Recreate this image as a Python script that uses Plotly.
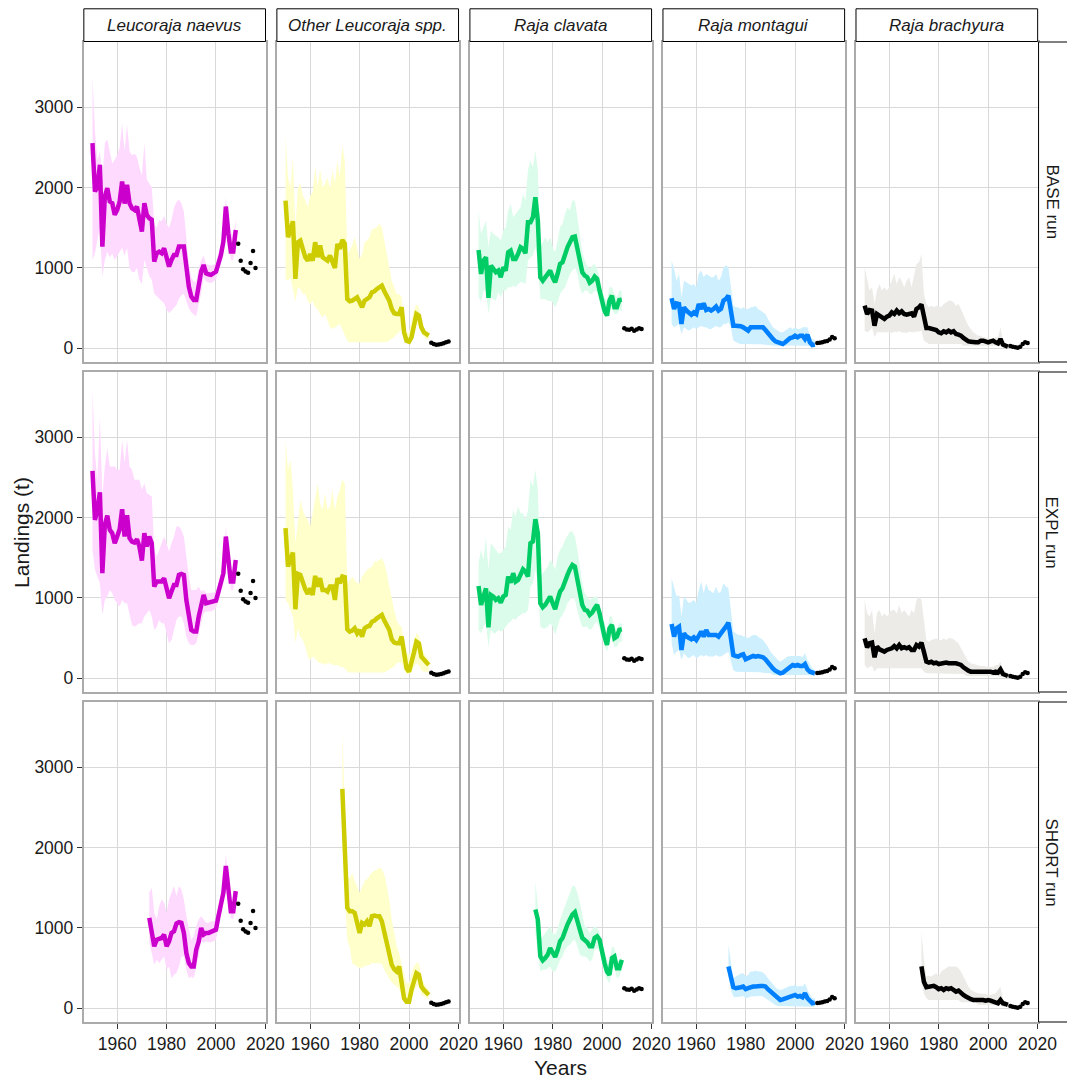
import plotly.graph_objects as go

# ---------------- DATA ----------------
YEARS_FULL = list(range(1950, 2009))
YEARS_SHORT = list(range(1973, 2009))
OBS_YEARS = list(range(2009, 2017))

SPECIES = ["Leucoraja naevus", "Other Leucoraja spp.", "Raja clavata", "Raja montagui", "Raja brachyura"]
RUNS = ["BASE run", "EXPL run", "SHORT run"]
Y_TICKS = [0, 1000, 2000, 3000]
X_TICKS = [1960, 1980, 2000, 2020]

# observed landings (2009-2016)
obs_naevus = [1300, 1090, 985, 955, 940, 1060, 1210, 1000]
obs_otherleu = [70, 55, 45, 48, 55, 62, 75, 85]
obs_clavata = [250, 235, 230, 245, 220, 235, 250, 240]
obs_montagui = [65, 70, 75, 85, 90, 110, 140, 125]
obs_brachyura = [30, 20, 15, 8, 20, 55, 75, 65]

# ---- BASE run (1950-2008) ----
naevus_base_med = [2552, 1950, 2010, 2282, 1265, 1888, 1992, 1826, 1805, 1660,
                   1722, 1826, 2075, 1800, 2033, 1805, 1743, 1722, 1763, 1577,
                   1452, 1805, 1660, 1618, 1598, 1079, 1183, 1203, 1183, 1245,
                   1100, 1017, 1100, 1162, 1162, 1266, 1266, 1266, 1017, 768,
                   643, 602, 602, 809, 954, 1037, 934, 921, 913, 934,
                   954, 1058, 1162, 1328, 1763, 1432, 1203, 1203, 1473]
naevus_base_hi = [3380, 2700, 2350, 2450, 2100, 2550, 2600, 2450, 2300, 2350,
                  2400, 2500, 2800, 2450, 2780, 2450, 2400, 2420, 2380, 2250,
                  2150, 2550, 2100, 2050, 2000, 1550, 1500, 1600, 1580, 1650,
                  1550, 1500, 1600, 1750, 1820, 1850, 1800, 1700, 1400, 1050,
                  880, 830, 830, 1000, 1100, 1150, 1050, 1040, 1030, 1040,
                  1060, 1180, 1300, 1480, 1880, 1600, 1450, 1400, 1600]
naevus_base_lo = [1100, 1180, 1350, 1500, 890, 1100, 1200, 1130, 1180, 1100,
                  1150, 1200, 1250, 1150, 1250, 1000, 950, 950, 1000, 850,
                  800, 1100, 1000, 900, 850, 680, 660, 630, 590, 560,
                  480, 440, 470, 500, 540, 620, 660, 680, 600, 500,
                  450, 420, 400, 550, 680, 880, 830, 820, 810, 830,
                  860, 950, 1050, 1200, 1600, 1300, 1100, 1100, 1350]

otherleu_base_med = [1838, 1382, 1465, 1581, 863, 1320, 1340, 1216, 1133, 1091,
                     1174, 1091, 1320, 1133, 1278, 1133, 1112, 1091, 1154, 1091,
                     1000, 1299, 1237, 1349, 1300, 614, 585, 593, 614, 635,
                     573, 510, 593, 614, 635, 697, 710, 739, 759, 780,
                     710, 656, 593, 490, 436, 427, 427, 510, 199, 95,
                     83, 137, 303, 427, 407, 261, 199, 170, 158]
otherleu_base_hi = [2647, 2128, 2000, 2377, 1500, 2004, 2046, 1900, 1838, 1755,
                    1900, 1942, 2253, 2004, 2232, 2004, 2046, 2129, 1983, 2212,
                    2046, 2336, 2129, 2523, 2336, 1174, 1216, 1278, 1382, 1257,
                    1112, 1174, 1320, 1340, 1382, 1485, 1485, 1506, 1548, 1506,
                    1320, 1174, 1008, 842, 759, 676, 676, 635, 261, 199,
                    199, 344, 469, 552, 510, 344, 261, 220, 200]
otherleu_base_lo = [863, 840, 880, 739, 573, 759, 739, 676, 676, 593,
                    552, 593, 510, 490, 427, 386, 427, 344, 261, 241,
                    261, 282, 303, 220, 158, 95, 75, 75, 75, 75,
                    75, 75, 75, 75, 75, 75, 75, 75, 75, 75,
                    75, 80, 95, 116, 137, 178, 200, 240, 104, 62,
                    62, 95, 199, 303, 261, 178, 137, 116, 110]

clavata_base_med = [1224, 925, 1091, 1133, 627, 1029, 988, 946, 967, 884,
                    1008, 967, 1195, 1216, 1112, 1112, 1174, 1257, 1237, 1183,
                    1568, 1568, 1631, 1880, 1589, 884, 842, 884, 925, 967,
                    884, 822, 925, 1050, 1070, 1174, 1257, 1320, 1382, 1390,
                    1257, 1091, 946, 905, 884, 817, 842, 892, 863, 718,
                    573, 469, 407, 593, 656, 510, 510, 600, 605]
clavata_base_hi = [1714, 1423, 1506, 1589, 1257, 1465, 1423, 1402, 1382, 1340,
                   1465, 1506, 1714, 1797, 1631, 1672, 1714, 1755, 1921, 1838,
                   2212, 2336, 2253, 2461, 2212, 1257, 1320, 1382, 1320, 1382,
                   1257, 1195, 1340, 1506, 1548, 1672, 1755, 1714, 1838, 1838,
                   1631, 1382, 1195, 1091, 1029, 988, 1029, 1050, 988, 884,
                   718, 635, 593, 759, 759, 676, 635, 718, 718]
clavata_base_lo = [635, 593, 718, 718, 427, 635, 614, 593, 697, 635,
                   718, 718, 759, 759, 780, 759, 801, 822, 822, 801,
                   1091, 1133, 1154, 1257, 1091, 614, 614, 614, 593, 593,
                   573, 510, 573, 676, 718, 759, 842, 925, 967, 1008,
                   925, 759, 676, 718, 718, 676, 676, 718, 697, 573,
                   448, 407, 386, 469, 510, 427, 427, 469, 469]

montagui_base_med = [622, 490, 560, 552, 303, 510, 469, 448, 419, 448,
                     427, 552, 490, 560, 477, 490, 469, 490, 519, 469,
                     490, 593, 614, 656, 450, 282, 282, 282, 274, 261,
                     241, 220, 261, 261, 274, 261, 266, 261, 228, 187,
                     145, 116, 87, 75, 62, 54, 75, 104, 129, 137,
                     158, 137, 158, 158, 116, 170, 75, 41, 46]
montagui_base_hi = [1091, 988, 842, 925, 635, 842, 822, 801, 780, 801,
                    759, 925, 967, 884, 925, 905, 884, 884, 925, 842,
                    884, 1008, 1029, 1008, 800, 531, 510, 510, 490, 510,
                    490, 490, 510, 510, 531, 490, 469, 448, 427, 365,
                    303, 261, 241, 220, 199, 199, 220, 241, 261, 241,
                    261, 241, 241, 261, 261, 261, 158, 116, 104]
montagui_base_lo = [303, 261, 282, 303, 178, 261, 241, 220, 241, 261,
                    241, 261, 282, 261, 261, 241, 241, 261, 282, 261,
                    261, 303, 303, 324, 261, 95, 75, 62, 54, 54,
                    54, 50, 50, 50, 50, 50, 50, 50, 45, 40,
                    35, 33, 33, 30, 28, 28, 30, 33, 35, 35,
                    35, 35, 35, 35, 33, 33, 30, 20, 20]

brachyura_base_med = [531, 427, 477, 469, 282, 427, 407, 386, 365, 394,
                      407, 448, 427, 469, 436, 460, 427, 419, 427, 436,
                      394, 490, 510, 544, 400, 253, 253, 241, 241, 228,
                      199, 187, 212, 199, 220, 199, 212, 178, 170, 158,
                      129, 104, 87, 83, 75, 75, 75, 95, 95, 87,
                      75, 87, 95, 75, 62, 116, 46, 33, 21]
brachyura_base_hi = [1008, 842, 718, 759, 552, 718, 801, 718, 759, 718,
                     759, 842, 925, 801, 884, 842, 759, 842, 884, 759,
                     925, 1050, 1071, 1174, 676, 552, 510, 531, 510, 531,
                     531, 510, 552, 573, 593, 593, 573, 531, 552, 490,
                     407, 344, 282, 241, 199, 178, 158, 158, 137, 137,
                     116, 116, 116, 137, 137, 261, 95, 54, 40]
brachyura_base_lo = [220, 199, 220, 261, 137, 199, 199, 199, 199, 199,
                     205, 190, 210, 200, 215, 195, 200, 190, 205, 200,
                     199, 210, 210, 220, 95, 75, 54, 54, 54, 54,
                     54, 54, 54, 54, 54, 54, 54, 54, 54, 54,
                     33, 33, 33, 33, 33, 33, 33, 33, 33, 33,
                     33, 33, 33, 33, 33, 33, 15, 10, 5]

# ---- EXPL run (1950-2008) ----
naevus_expl_med = [2581, 1971, 2095, 2315, 1307, 1909, 2025, 1846, 1805, 1680,
                   1763, 1855, 2104, 1763, 2029, 1743, 1701, 1689, 1730, 1639,
                   1465, 1805, 1639, 1763, 1680, 1141, 1203, 1203, 1203, 1245,
                   1120, 996, 1079, 1162, 1162, 1286, 1299, 1286, 975, 747,
                   602, 581, 581, 768, 892, 1037, 934, 942, 942, 954,
                   967, 1079, 1183, 1307, 1763, 1473, 1203, 1203, 1473]
naevus_expl_hi = [3589, 2801, 2469, 3257, 2261, 2635, 2863, 2635, 2635, 2635,
                  2593, 2593, 2967, 2676, 2967, 2635, 2593, 2469, 2469, 2469,
                  2344, 2427, 2303, 2282, 2261, 1600, 1515, 1598, 1680, 1763,
                  1680, 1577, 1680, 1763, 1888, 1888, 1846, 1763, 1515, 1266,
                  1100, 1100, 1100, 1141, 1079, 1100, 1060, 1058, 1058, 1066,
                  1079, 1183, 1286, 1390, 1888, 1556, 1349, 1266, 1535]
naevus_expl_lo = [1598, 1349, 1266, 1183, 788, 975, 1017, 1100, 1058, 975,
                  934, 892, 975, 934, 934, 809, 664, 643, 664, 685,
                  685, 768, 809, 851, 768, 602, 643, 726, 685, 685,
                  560, 436, 477, 602, 726, 768, 768, 685, 519, 436,
                  415, 415, 436, 560, 685, 809, 830, 830, 830, 851,
                  871, 975, 1079, 1183, 1639, 1349, 1100, 1100, 1349]

otherleu_expl_med = [1867, 1390, 1473, 1564, 859, 1299, 1286, 1183, 1108, 1050,
                     1120, 1037, 1274, 1141, 1245, 1100, 1100, 1079, 1141, 1141,
                     975, 1245, 1183, 1266, 1257, 610, 581, 593, 622, 560,
                     602, 519, 622, 643, 651, 705, 718, 747, 776, 788,
                     718, 664, 602, 485, 444, 436, 436, 519, 270, 124,
                     83, 187, 320, 456, 436, 270, 237, 195, 166]
otherleu_expl_hi = [2967, 2593, 2718, 2344, 1680, 1971, 2220, 2095, 2012, 1971,
                    1888, 2054, 2261, 2427, 2178, 2095, 2303, 2095, 2137, 2344,
                    2095, 2261, 2344, 2469, 2427, 1183, 1224, 1266, 1224, 1183,
                    1183, 1266, 1307, 1349, 1369, 1390, 1452, 1452, 1473, 1494,
                    1432, 1307, 1141, 975, 851, 726, 664, 643, 436, 311,
                    290, 353, 477, 560, 539, 394, 311, 270, 228]
otherleu_expl_lo = [975, 934, 851, 768, 436, 622, 519, 477, 394, 270,
                    228, 270, 249, 207, 187, 187, 166, 187, 187, 166,
                    166, 166, 145, 145, 124, 83, 71, 71, 71, 71,
                    71, 71, 71, 71, 71, 71, 71, 71, 71, 71,
                    71, 83, 104, 124, 145, 187, 200, 187, 104, 54,
                    54, 83, 145, 187, 166, 104, 83, 83, 71]

clavata_expl_med = [1149, 913, 1017, 1120, 635, 1037, 1017, 975, 996, 942,
                    1017, 1037, 1266, 1191, 1307, 1203, 1224, 1299, 1357, 1328,
                    1266, 1680, 1701, 1979, 1805, 934, 884, 913, 954, 1017,
                    934, 859, 975, 1079, 1120, 1224, 1286, 1357, 1411, 1390,
                    1224, 1058, 913, 851, 842, 788, 817, 871, 913, 809,
                    643, 519, 415, 622, 664, 498, 519, 602, 610]
clavata_expl_hi = [1432, 1598, 1473, 1763, 1349, 1680, 1639, 1598, 1556, 1556,
                   1598, 1639, 1888, 1846, 2095, 2012, 2137, 2054, 2054, 1971,
                   2095, 2469, 2386, 2593, 2344, 1266, 1307, 1349, 1390, 1473,
                   1432, 1349, 1515, 1598, 1639, 1722, 1784, 1826, 1826, 1763,
                   1598, 1390, 1183, 1058, 1017, 975, 996, 1017, 1017, 892,
                   768, 685, 560, 768, 768, 643, 622, 685, 685]
clavata_expl_lo = [602, 560, 643, 685, 394, 602, 560, 560, 602, 581,
                   602, 643, 685, 705, 747, 726, 768, 788, 809, 809,
                   851, 1141, 1183, 1349, 1183, 643, 622, 622, 643, 685,
                   643, 539, 643, 747, 788, 851, 934, 975, 1017, 975,
                   851, 726, 643, 643, 643, 602, 622, 685, 705, 622,
                   498, 415, 332, 477, 519, 394, 394, 456, 456]

montagui_expl_med = [676, 519, 622, 643, 353, 560, 519, 498, 486, 510,
                     477, 527, 581, 519, 602, 539, 539, 539, 539, 519,
                     552, 602, 643, 693, 500, 290, 278, 270, 290, 299,
                     237, 249, 270, 278, 270, 278, 270, 262, 237, 195,
                     154, 124, 95, 83, 62, 70, 95, 124, 154, 166,
                     154, 166, 154, 154, 178, 112, 83, 71, 62]
montagui_expl_hi = [1245, 1141, 1017, 1037, 768, 1017, 975, 934, 954, 975,
                    934, 1100, 1203, 1058, 1183, 1100, 1079, 1058, 1141, 1058,
                    1079, 1183, 1141, 1120, 851, 581, 560, 539, 539, 519,
                    519, 498, 519, 539, 539, 519, 498, 477, 436, 394,
                    332, 290, 261, 228, 207, 228, 249, 270, 278, 278,
                    270, 270, 278, 261, 311, 228, 166, 124, 104]
montagui_expl_lo = [436, 290, 332, 353, 228, 311, 270, 249, 270, 290,
                    249, 270, 290, 270, 290, 270, 270, 270, 290, 270,
                    270, 290, 311, 332, 228, 104, 83, 83, 83, 83,
                    75, 75, 75, 75, 75, 75, 75, 70, 66, 62,
                    62, 41, 41, 41, 41, 41, 41, 41, 41, 41,
                    41, 41, 41, 41, 41, 41, 41, 35, 30]

brachyura_expl_med = [498, 386, 436, 444, 261, 394, 361, 353, 332, 353,
                      361, 373, 402, 373, 415, 373, 386, 373, 386, 353,
                      353, 415, 394, 444, 330, 207, 195, 207, 187, 195,
                      178, 187, 187, 195, 187, 187, 195, 187, 178, 166,
                      137, 112, 95, 83, 83, 83, 83, 91, 83, 83,
                      91, 83, 71, 83, 71, 112, 54, 41, 29]
brachyura_expl_hi = [975, 809, 768, 851, 560, 809, 851, 768, 809, 768,
                     809, 851, 851, 809, 913, 809, 851, 809, 768, 851,
                     809, 975, 1017, 975, 685, 477, 456, 477, 485, 498,
                     477, 477, 498, 477, 498, 498, 485, 456, 436, 373,
                     311, 249, 207, 187, 178, 166, 166, 154, 154, 145,
                     145, 145, 145, 166, 166, 207, 104, 83, 62]
brachyura_expl_lo = [166, 124, 145, 154, 83, 124, 124, 124, 124, 124,
                     124, 124, 124, 124, 124, 124, 124, 124, 124, 124,
                     124, 124, 124, 124, 83, 62, 54, 54, 54, 54,
                     54, 54, 54, 54, 54, 54, 54, 54, 54, 54,
                     54, 29, 29, 29, 29, 29, 29, 29, 29, 29,
                     29, 29, 29, 29, 29, 15, 15, 15, 12]

# ---- SHORT run (1973-2008) ----
naevus_short_med = [1125, 960, 771, 854, 862, 875, 917, 771, 833, 938,
                    958, 1054, 1071, 1063, 938, 688, 563, 521, 521, 729,
                    833, 1000, 917, 938, 938, 950, 958, 979, 1146, 1292,
                    1438, 1771, 1521, 1208, 1208, 1458]
naevus_short_hi = [1438, 1500, 1188, 1104, 1271, 1354, 1313, 1188, 1354, 1438,
                   1521, 1396, 1521, 1479, 1354, 1146, 979, 854, 896, 1021,
                   1104, 1146, 1104, 1063, 1063, 1083, 1083, 1104, 1271, 1417,
                   1563, 1917, 1604, 1313, 1250, 1479]
naevus_short_lo = [813, 688, 542, 604, 563, 604, 646, 479, 521, 375,
                   417, 438, 521, 646, 646, 479, 375, 396, 375, 521,
                   646, 833, 813, 833, 821, 821, 833, 854, 1021, 1188,
                   1313, 1646, 1396, 1125, 1104, 1354]

otherleu_short_med = [2729, 2000, 1250, 1208, 1208, 1188, 1083, 938, 1063, 1042,
                      1083, 1021, 1146, 1154, 1146, 1146, 1083, 938, 792, 646,
                      542, 488, 458, 521, 271, 125, 83, 83, 229, 333,
                      438, 417, 271, 229, 188, 167]
otherleu_short_hi = [3438, 2600, 1646, 1604, 1688, 1583, 1521, 1438, 1521, 1583,
                     1604, 1646, 1688, 1708, 1729, 1750, 1729, 1667, 1521, 1354,
                     1104, 938, 771, 688, 563, 438, 313, 313, 438, 521,
                     563, 563, 396, 313, 271, 229]
otherleu_short_lo = [2100, 1400, 850, 760, 560, 540, 520, 500, 510, 520,
                     540, 540, 560, 560, 560, 560, 550, 480, 420, 370,
                     320, 300, 270, 240, 160, 100, 65, 65, 120, 210,
                     270, 280, 160, 150, 130, 120]

clavata_short_med = [1229, 1104, 646, 596, 625, 667, 750, 688, 638, 721,
                     833, 875, 979, 1042, 1104, 1167, 1196, 1104, 979, 875,
                     846, 821, 771, 771, 875, 896, 854, 688, 563, 458,
                     417, 625, 646, 500, 500, 604]
clavata_short_hi = [1583, 1271, 854, 896, 938, 979, 1021, 938, 917, 979,
                    1104, 1188, 1271, 1354, 1438, 1521, 1521, 1438, 1313, 1146,
                    1021, 1000, 938, 979, 1021, 1000, 938, 813, 688, 604,
                    563, 771, 750, 604, 583, 646]
clavata_short_lo = [938, 688, 458, 479, 479, 500, 521, 458, 458, 521,
                    604, 646, 729, 771, 792, 833, 854, 771, 667, 646,
                    646, 625, 583, 604, 729, 750, 708, 563, 438, 354,
                    313, 458, 521, 375, 396, 479]

montagui_short_med = [521, 396, 263, 250, 250, 263, 271, 238, 250, 263,
                      271, 271, 279, 279, 279, 271, 238, 208, 180, 146,
                      121, 104, 112, 125, 133, 146, 154, 167, 146, 154,
                      138, 188, 125, 83, 63, 71]
montagui_short_hi = [792, 604, 375, 396, 417, 429, 438, 396, 417, 458,
                     458, 471, 458, 458, 446, 417, 375, 333, 292, 263,
                     238, 229, 238, 250, 263, 279, 279, 292, 271, 279,
                     271, 313, 229, 167, 125, 125]
montagui_short_lo = [396, 229, 146, 138, 146, 146, 154, 125, 133, 146,
                     146, 154, 154, 154, 146, 133, 104, 83, 63, 42,
                     29, 21, 21, 21, 21, 21, 21, 21, 21, 21,
                     21, 21, 21, 21, 21, 21]

brachyura_short_med = [521, 330, 263, 271, 271, 279, 263, 238, 250, 229,
                       250, 238, 250, 229, 208, 220, 188, 167, 146, 125,
                       113, 104, 104, 113, 104, 104, 96, 104, 96, 83,
                       71, 63, 104, 63, 54, 42]
brachyura_short_hi = [958, 604, 396, 404, 396, 417, 438, 396, 458, 479,
                      500, 521, 521, 521, 521, 500, 458, 396, 333, 271,
                      229, 208, 196, 188, 188, 179, 179, 167, 167, 179,
                      188, 229, 271, 104, 83, 63]
brachyura_short_lo = [313, 188, 125, 104, 104, 104, 104, 104, 104, 104,
                      104, 104, 104, 104, 104, 104, 75, 75, 75, 75,
                      75, 75, 75, 42, 42, 42, 42, 42, 42, 42,
                      42, 42, 42, 20, 20, 20]

# ---------------- STYLE ----------------
LINE_COLORS = ["#CC00CC", "#CCCC00", "#00CC66", "#0080FF", "#000000"]
FILL_COLORS = ["#FFDAFF", "#FFFFCC", "#DBFCEA", "#CDEFFE", "#ECEBE7"]

W, H = 1067, 1079          # target picture size (positions below are in target pixels)
FIG_W = 1085               # figure width (compensates horizontal squeeze seen in the screenshot)
COL_LEFT = [84, 277.4, 470.8, 664.2, 857.6]
PW = 182
ROW_TOP = [42, 372, 702]
PH = 320
FONT = "Liberation Sans, Arial, Helvetica, sans-serif"
TXT = "#1A1A1A"

panels = {
    (0, 0): (YEARS_FULL, naevus_base_med, naevus_base_lo, naevus_base_hi, obs_naevus),
    (0, 1): (YEARS_FULL, otherleu_base_med, otherleu_base_lo, otherleu_base_hi, obs_otherleu),
    (0, 2): (YEARS_FULL, clavata_base_med, clavata_base_lo, clavata_base_hi, obs_clavata),
    (0, 3): (YEARS_FULL, montagui_base_med, montagui_base_lo, montagui_base_hi, obs_montagui),
    (0, 4): (YEARS_FULL, brachyura_base_med, brachyura_base_lo, brachyura_base_hi, obs_brachyura),
    (1, 0): (YEARS_FULL, naevus_expl_med, naevus_expl_lo, naevus_expl_hi, obs_naevus),
    (1, 1): (YEARS_FULL, otherleu_expl_med, otherleu_expl_lo, otherleu_expl_hi, obs_otherleu),
    (1, 2): (YEARS_FULL, clavata_expl_med, clavata_expl_lo, clavata_expl_hi, obs_clavata),
    (1, 3): (YEARS_FULL, montagui_expl_med, montagui_expl_lo, montagui_expl_hi, obs_montagui),
    (1, 4): (YEARS_FULL, brachyura_expl_med, brachyura_expl_lo, brachyura_expl_hi, obs_brachyura),
    (2, 0): (YEARS_SHORT, naevus_short_med, naevus_short_lo, naevus_short_hi, obs_naevus),
    (2, 1): (YEARS_SHORT, otherleu_short_med, otherleu_short_lo, otherleu_short_hi, obs_otherleu),
    (2, 2): (YEARS_SHORT, clavata_short_med, clavata_short_lo, clavata_short_hi, obs_clavata),
    (2, 3): (YEARS_SHORT, montagui_short_med, montagui_short_lo, montagui_short_hi, obs_montagui),
    (2, 4): (YEARS_SHORT, brachyura_short_med, brachyura_short_lo, brachyura_short_hi, obs_brachyura),
}

fig = go.Figure()
layout = dict(width=FIG_W, height=H, autosize=False, margin=dict(l=0, r=0, t=0, b=0, pad=0),
              paper_bgcolor="white", plot_bgcolor="white", showlegend=False,
              font=dict(family=FONT, color=TXT, size=17))
shapes = []
annotations = []

for (r, c), (yrs, med, lo, hi, obs) in panels.items():
    idx = r * 5 + c + 1
    xa = "x" if idx == 1 else f"x{idx}"
    ya = "y" if idx == 1 else f"y{idx}"
    xkey = "xaxis" if idx == 1 else f"xaxis{idx}"
    ykey = "yaxis" if idx == 1 else f"yaxis{idx}"
    left = COL_LEFT[c]
    top = ROW_TOP[r]
    layout[xkey] = dict(
        domain=[left / W, (left + PW) / W], anchor=ya, range=[1946.5, 2020.05],
        tickvals=X_TICKS, showgrid=True, gridcolor="#D9D9D9", gridwidth=1.3,
        zeroline=False, showline=True, mirror=True, linecolor="#ABABAB", linewidth=2,
        ticks="outside" if r == 2 else "", ticklen=5, tickwidth=1.2, tickcolor="#333333",
        showticklabels=(r == 2), tickfont=dict(size=17.5, color=TXT, family=FONT))
    layout[ykey] = dict(
        domain=[1 - (top + PH) / H, 1 - top / H], anchor=xa, range=[-170, 3810],
        tickvals=Y_TICKS, showgrid=True, gridcolor="#D9D9D9", gridwidth=1.3,
        zeroline=False, showline=True, mirror=True, linecolor="#ABABAB", linewidth=2,
        ticks="outside" if c == 0 else "", ticklen=5, tickwidth=1.2, tickcolor="#333333",
        showticklabels=(c == 0), tickfont=dict(size=17.5, color=TXT, family=FONT))

    fig.add_trace(go.Scatter(x=list(yrs) + list(yrs)[::-1], y=list(hi) + list(lo)[::-1],
                             fill="toself", fillcolor=FILL_COLORS[c], mode="lines",
                             line=dict(width=0, color=FILL_COLORS[c]),
                             xaxis=xa, yaxis=ya, hoverinfo="skip"))
    fig.add_trace(go.Scatter(x=yrs, y=med, mode="lines",
                             line=dict(color=LINE_COLORS[c], width=4.5),
                             xaxis=xa, yaxis=ya))
    fig.add_trace(go.Scatter(x=OBS_YEARS, y=obs, mode="markers",
                             marker=dict(color="black", size=4.5, symbol="circle", line=dict(width=0)),
                             xaxis=xa, yaxis=ya))

# top strips
for c, name in enumerate(SPECIES):
    left = COL_LEFT[c]
    shapes.append(dict(type="rect", xref="paper", yref="paper",
                       x0=left / W, x1=(left + PW) / W, y0=1 - 41.5 / H, y1=1 - 8.8 / H,
                       line=dict(color="black", width=1), fillcolor="white", layer="above"))
    annotations.append(dict(text=f"<i>{name}</i>", xref="paper", yref="paper",
                            x=(left + PW / 2) / W, y=1 - 25.5 / H, showarrow=False,
                            xanchor="center", yanchor="middle",
                            font=dict(size=17, color=TXT, family=FONT)))
# right strips
for r, name in enumerate(RUNS):
    top = ROW_TOP[r]
    shapes.append(dict(type="rect", xref="paper", yref="paper",
                       x0=1040.5 / W, x1=1.02, y0=1 - (top + PH) / H, y1=1 - top / H,
                       line=dict(color="black", width=1), fillcolor="white", layer="above"))
    annotations.append(dict(text=name, xref="paper", yref="paper",
                            x=1053.5 / W, y=1 - (top + PH / 2) / H, showarrow=False,
                            textangle=90, xanchor="center", yanchor="middle",
                            font=dict(size=17, color=TXT, family=FONT)))

annotations.append(dict(text="Years", xref="paper", yref="paper", x=561.8 / W, y=1 - 1067 / H,
                        showarrow=False, xanchor="center", yanchor="middle",
                        font=dict(size=21, color=TXT, family=FONT)))
annotations.append(dict(text="Landings (t)", xref="paper", yref="paper", x=21 / W, y=1 - 532 / H,
                        showarrow=False, textangle=-90, xanchor="center", yanchor="middle",
                        font=dict(size=21, color=TXT, family=FONT)))

layout["shapes"] = shapes
layout["annotations"] = annotations
fig.update_layout(**layout)
fig.write_html("out.html")
